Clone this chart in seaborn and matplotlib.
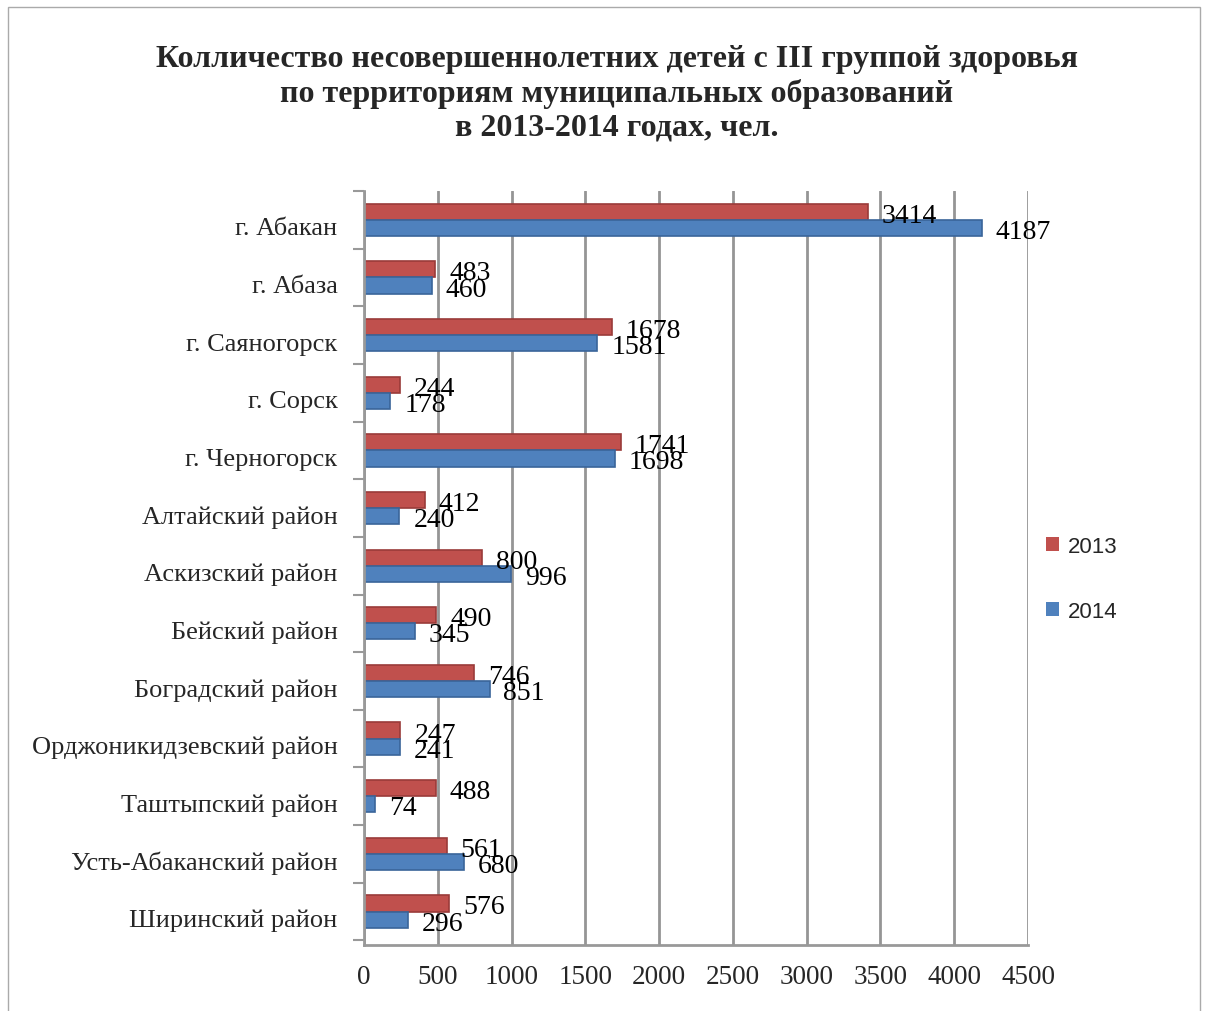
import matplotlib
matplotlib.use("Agg")
import matplotlib.pyplot as plt
import matplotlib.transforms as mtransforms
import seaborn as sns
import pandas as pd
from matplotlib.patches import Rectangle

categories = ["г. Абакан", "г. Абаза", "г. Саяногорск", "г. Сорск", "г. Черногорск",
              "Алтайский район", "Аскизский район", "Бейский район", "Боградский район",
              "Орджоникидзевский район", "Таштыпский район", "Усть-Абаканский район",
              "Ширинский район"]
values_2013 = [3414, 483, 1678, 244, 1741, 412, 800, 490, 746, 247, 488, 561, 576]
values_2014 = [4187, 460, 1581, 178, 1698, 240, 996, 345, 851, 241, 74, 680, 296]
series = ["2013", "2014"]
title = ("Колличество несовершеннолетних детей с III группой здоровья\n"
         "по территориям муниципальных образований\n"
         "в 2013-2014 годах, чел.")

df = pd.DataFrame({
    "cat": categories * 2,
    "val": values_2013 + values_2014,
    "year": [series[0]] * len(categories) + [series[1]] * len(categories),
})

sns.set_theme(style="white")
plt.rcParams['font.family'] = ['Liberation Serif', 'DejaVu Serif']

W, H = 1208, 1012
fig = plt.figure(figsize=(W / 100, H / 100), dpi=100)
ax = fig.add_axes([364 / W, 1 - 946 / H, (1028 - 364) / W, (946 - 192) / H])

palette = {"2013": "#C0504D", "2014": "#4F81BD"}
sns.barplot(data=df, y="cat", x="val", hue="year", orient="h", ax=ax,
            palette=palette, width=0.56, dodge=True, legend=True,
            saturation=1, edgecolor=None, linewidth=0)

for i, cont in enumerate(ax.containers):
    edge = "#9A3B39" if i == 0 else "#3A659A"
    for p in cont:
        p.set_edgecolor(edge)
        p.set_linewidth(1.2)

n = len(categories)
ax.set_xlim(0, 4500)
ax.set_ylim(n - 0.42, -0.5)
ax.set_xticks(range(0, 4501, 500))
ax.set_xticklabels([str(v) for v in range(0, 4501, 500)], fontsize=19.5)
ax.tick_params(axis="x", pad=14, length=0)
ax.set_yticks(range(n))
ax.set_yticklabels(categories, fontsize=19)
ax.tick_params(axis="y", pad=19, length=0)
shift = mtransforms.ScaledTranslation(0, -6 / 100, fig.dpi_scale_trans)
for lbl in ax.get_yticklabels():
    lbl.set_transform(lbl.get_transform() + shift)
ax.set_yticks([i - 0.5 for i in range(n + 1)], minor=True)
ax.tick_params(axis="y", which="minor", length=8, color="#999999", width=1.5, left=True)
ax.set_xlabel("")
ax.set_ylabel("")
ax.grid(axis="x", color="#959595", linewidth=2)
ax.set_axisbelow(True)
for s in ["top", "right"]:
    ax.spines[s].set_visible(False)
for s in ["left", "bottom"]:
    ax.spines[s].set_color("#999999")
    ax.spines[s].set_linewidth(2)

for i, cont in enumerate(ax.containers):
    vals = values_2013 if i == 0 else values_2014
    for p, v in zip(cont, vals):
        yc = p.get_y() + p.get_height() / 2
        ax.annotate(str(v), (p.get_x() + p.get_width(), yc),
                    xytext=(10, -2.5),
                    textcoords="offset points", fontsize=20, ha="left", va="center",
                    color="#000000")

leg = ax.legend(loc="center left", bbox_to_anchor=(1026 / W, 1 - 580 / H),
                bbox_transform=fig.transFigure, frameon=False,
                handlelength=0.6, handleheight=0.6, labelspacing=2.0,
                handletextpad=0.4, prop={"family": "Liberation Sans", "size": 16})

fig.text(617 / W, 1 - 94 / H, title, ha="center", va="center", fontsize=23,
         fontweight="bold", linespacing=1.2)

fig.patches.append(Rectangle((8 / W, -0.01), (1200 - 8) / W, 1 - 8 / H + 0.01,
                             transform=fig.transFigure, fill=False,
                             edgecolor="#AAAAAA", linewidth=1))

fig.savefig("out.png", dpi=100)
